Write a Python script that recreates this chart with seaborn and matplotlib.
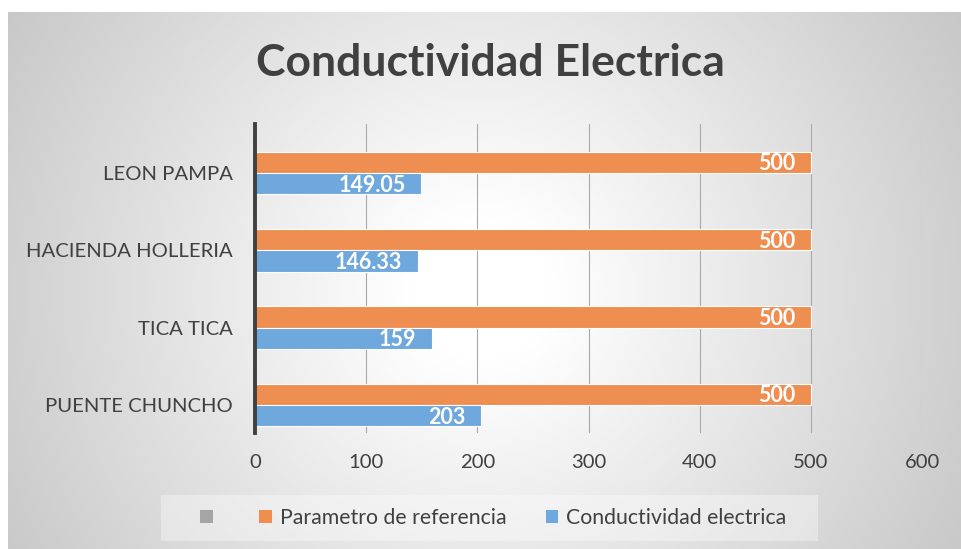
import numpy as np
import pandas as pd
import matplotlib
matplotlib.use("Agg")
import matplotlib.pyplot as plt
import seaborn as sns
from matplotlib.patches import Patch, Rectangle

# ---- data ----
categories = ["LEON PAMPA", "HACIENDA HOLLERIA", "TICA TICA", "PUENTE CHUNCHO"]
parametro = [500, 500, 500, 500]
conductividad = [149.05, 146.33, 159, 203]
conductividad_labels = ["149.05", "146.33", "159", "203"]
parametro_labels = ["500", "500", "500", "500"]
series_names = ["Parametro de referencia", "Conductividad electrica"]
x_ticks = [0, 100, 200, 300, 400, 500, 600]

df = pd.DataFrame({
    "Estacion": categories * 2,
    "Serie": [series_names[0]] * 4 + [series_names[1]] * 4,
    "Valor": parametro + conductividad,
})
labels_map = {series_names[0]: parametro_labels, series_names[1]: conductividad_labels}

ORANGE = "#EE8E51"
BLUE = "#6FA8DC"
TEXT = "#404040"

sns.set_theme(style="white")
plt.rcParams["font.family"] = ["Lato", "DejaVu Sans"]

W, H = 961, 549
fig = plt.figure(figsize=(W / 100, H / 100), dpi=100)
fig.patch.set_facecolor("white")

# ---- radial gradient background of the chart area ----
x0, y0 = 8, 12
bg = fig.add_axes([x0 / W, 0, (W - x0) / W, (H - y0) / H], zorder=0)
yy, xx = np.mgrid[y0:H, x0:W]
d = np.hypot(xx - 480, yy - 290)
c = np.clip(255 - np.maximum(0, d - 70) * 0.115, 0, 255) / 255.0
bg.imshow(np.dstack([c, c, c]), aspect="auto", interpolation="bilinear")
bg.set_axis_off()

# ---- main plot ----
left, right, top, bottom = 255, 922, 124, 433
ax = fig.add_axes([left / W, (H - bottom) / H, (right - left) / W, (bottom - top) / H], zorder=1)
ax.patch.set_alpha(0)

sns.barplot(data=df, y="Estacion", x="Valor", hue="Serie", order=categories,
            hue_order=series_names, palette=[ORANGE, BLUE], orient="h",
            width=0.55, edgecolor="white", linewidth=0.8, saturation=1,
            legend=False, ax=ax, zorder=3)

ax.set_xlim(0, 600)
ax.set_ylim(3.362, -0.634)
ax.set_xticks(x_ticks)
ax.set_xticklabels([str(t) for t in x_ticks])
ax.set_xlabel("")
ax.set_ylabel("")
ax.grid(axis="x", color="#a9a9a9", linewidth=0.8, zorder=0)
ax.set_axisbelow(True)
for s in ["top", "right", "bottom"]:
    ax.spines[s].set_visible(False)
ax.spines["left"].set_color("#404040")
ax.spines["left"].set_linewidth(2.8)
ax.spines["left"].set_zorder(5)
ax.tick_params(axis="both", length=0, labelsize=14.6, labelcolor=TEXT)
ax.tick_params(axis="y", pad=16)
ax.tick_params(axis="x", pad=15)

# data labels (inside end, white bold)
for cont, name in zip(ax.containers, series_names):
    for p, lab in zip(cont.patches, labels_map[name]):
        ax.annotate(lab, (p.get_x() + p.get_width(), p.get_y() + p.get_height() / 2),
                    xytext=(-11, -1), textcoords="offset points", ha="right", va="center",
                    color="white", fontsize=15.5, fontweight="bold", zorder=6)

# title
fig.text(490 / W, 1 - 63 / H, "Conductividad Electrica", ha="center", va="center",
         fontsize=32, fontweight="bold", color=TEXT)

# legend box
fig.patches.append(Rectangle((161 / W, 1 - 541 / H), (818 - 161) / W, 46 / H,
                             transform=fig.transFigure, facecolor=(1, 1, 1, 0.35),
                             edgecolor="none", zorder=2))
handles = [Patch(facecolor="#A5A5A5", edgecolor="none"),
           Patch(facecolor=ORANGE, edgecolor="none"),
           Patch(facecolor=BLUE, edgecolor="none")]
leg = fig.legend(handles, ["", series_names[0], series_names[1]], ncol=3,
                 loc="center", bbox_to_anchor=(493 / W, 1 - 518 / H),
                 fontsize=15.3, frameon=False, handlelength=0.6, handleheight=0.6,
                 handletextpad=0.35, columnspacing=1.85, labelcolor=TEXT)
leg.set_zorder(4)

fig.savefig("out.png", dpi=100)
